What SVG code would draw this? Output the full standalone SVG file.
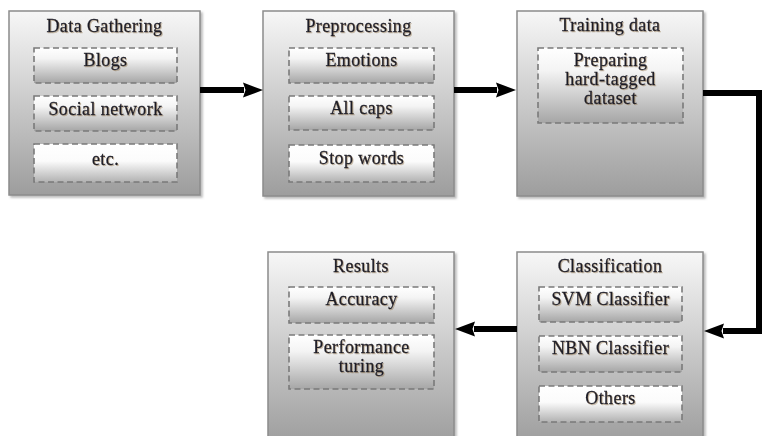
<svg xmlns="http://www.w3.org/2000/svg" width="763" height="436" viewBox="0 0 763 436">
<defs>
<linearGradient id="outer" x1="0" y1="0" x2="0" y2="1">
<stop offset="0" stop-color="#f7f7f7"/>
<stop offset="1" stop-color="#9d9d9d"/>
</linearGradient>
<linearGradient id="inner" x1="0" y1="0" x2="0" y2="1">
<stop offset="0" stop-color="#ffffff"/>
<stop offset="0.3" stop-color="#f4f4f4"/>
<stop offset="1" stop-color="#a6a6a6"/>
</linearGradient>
<linearGradient id="inner3" x1="0" y1="0" x2="0" y2="1">
<stop offset="0" stop-color="#ffffff"/>
<stop offset="0.45" stop-color="#fbfbfb"/>
<stop offset="1" stop-color="#b2b2b2"/>
</linearGradient>
<filter id="shadow" x="-5%" y="-5%" width="115%" height="115%">
<feDropShadow dx="2" dy="2" stdDeviation="1.2" flood-color="#777" flood-opacity="0.5"/>
</filter>
<filter id="tshadow" x="-5%" y="-20%" width="115%" height="150%">
<feDropShadow dx="1" dy="1" stdDeviation="0.6" flood-color="#8a6a40" flood-opacity="0.45"/>
</filter>
<marker id="head" markerUnits="userSpaceOnUse" markerWidth="21" markerHeight="16" refX="1" refY="8" orient="auto">
<path d="M0,0.5 L20,8 L0,15.5 L2.5,8 Z" fill="#000"/>
</marker>
<style>
.outer{fill:url(#outer);stroke:#8c8c8c;stroke-width:1.5;filter:url(#shadow)}
.inner{fill:url(#inner);stroke:#7a7a7a;stroke-width:1.6;stroke-dasharray:6 3.5}
.inner3{fill:url(#inner3);stroke:#7a7a7a;stroke-width:1.6;stroke-dasharray:6 3.5}
.t{font-family:"Liberation Serif","Times New Roman",serif;font-size:18px;fill:#1e1e28;stroke:#1e1e28;stroke-width:0.3px;text-anchor:middle;letter-spacing:0.4px;filter:url(#tshadow)}
.conn{fill:none;stroke:#000;stroke-width:6;stroke-linejoin:miter}
</style>
</defs>
<rect width="763" height="436" fill="#ffffff"/>
<g id="data-gathering">
<rect class="outer" x="9" y="11" width="191" height="184"/>
<text class="t" x="104.5" y="32">Data Gathering</text>
<g id="blogs"><rect class="inner" x="34" y="48" width="143" height="35"/><text class="t" x="105.5" y="66">Blogs</text></g>
<g id="social-network"><rect class="inner" x="34" y="96" width="143" height="35"/><text class="t" x="105.5" y="115">Social network</text></g>
<g id="etc"><rect class="inner3" x="34" y="144" width="143" height="38"/><text class="t" x="105.5" y="165">etc.</text></g>
</g>

<g id="preprocessing">
<rect class="outer" x="263" y="11" width="191" height="185"/>
<text class="t" x="358.5" y="32">Preprocessing</text>
<g id="emotions"><rect class="inner" x="289" y="48" width="145" height="35"/><text class="t" x="361.5" y="66">Emotions</text></g>
<g id="all-caps"><rect class="inner" x="289" y="96" width="145" height="34"/><text class="t" x="361.5" y="114">All caps</text></g>
<g id="stop-words"><rect class="inner3" x="289" y="145" width="145" height="37"/><text class="t" x="361.5" y="164">Stop words</text></g>
</g>

<g id="training-data">
<rect class="outer" x="517" y="11" width="186" height="185"/>
<text class="t" x="610" y="31">Training data</text>
<g id="hard-tagged"><rect class="inner" x="538" y="48" width="145" height="75"/>
<text class="t" x="610.5" y="66">Preparing</text>
<text class="t" x="610.5" y="85">hard-tagged</text>
<text class="t" x="610.5" y="104">dataset</text></g>
</g>

<g id="classification">
<rect class="outer" x="517" y="252" width="186" height="192"/>
<text class="t" x="610" y="272">Classification</text>
<g id="svm"><rect class="inner" x="539" y="287" width="143" height="35"/><text class="t" x="610.5" y="305">SVM Classifier</text></g>
<g id="nbn"><rect class="inner" x="539" y="336" width="143" height="36"/><text class="t" x="610.5" y="354">NBN Classifier</text></g>
<g id="others"><rect class="inner3" x="539" y="386" width="143" height="36"/><text class="t" x="610.5" y="404">Others</text></g>
</g>

<g id="results">
<rect class="outer" x="268" y="252" width="186" height="192"/>
<text class="t" x="361" y="272">Results</text>
<g id="accuracy"><rect class="inner" x="289" y="287" width="145" height="36"/><text class="t" x="361.5" y="305">Accuracy</text></g>
<g id="performance"><rect class="inner" x="289" y="335" width="145" height="54"/>
<text class="t" x="361.5" y="353">Performance</text>
<text class="t" x="361.5" y="372">turing</text></g>
</g>

<g id="connectors">
<path class="conn" d="M200,90 H244" marker-end="url(#head)"/>
<path class="conn" d="M454,90 H497" marker-end="url(#head)"/>
<path class="conn" d="M703,93 H759 V331 H723" marker-end="url(#head)"/>
<path class="conn" d="M517,329 H474" marker-end="url(#head)"/>
</g>
</svg>
